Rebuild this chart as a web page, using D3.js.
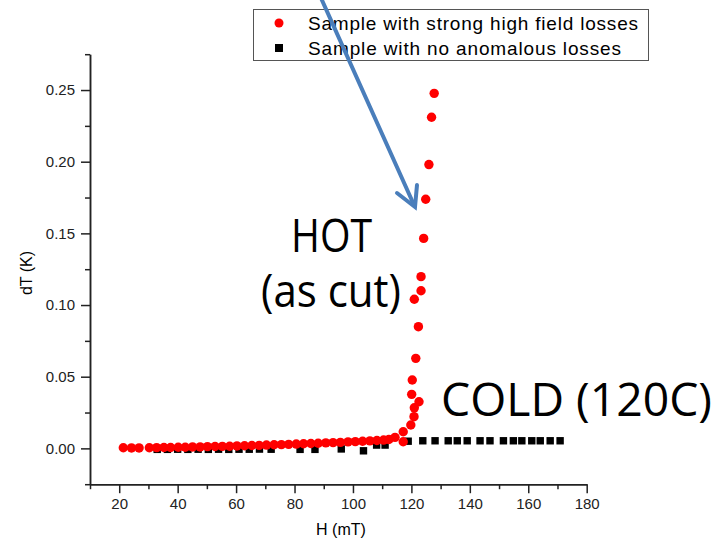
<!DOCTYPE html>
<html>
<head>
<meta charset="utf-8">
<script src="https://cdn.jsdelivr.net/npm/d3@7"></script>
<style>
  body { margin: 0; background: #fff; }
  svg { display: block; }
  .axis text { font-family: "Liberation Sans", Arial, sans-serif; font-size: 15px; fill: #222; }
  .axis path, .axis line { stroke: #222; stroke-width: 1.5px; }
</style>
</head>
<body>
<svg id="chart" width="716" height="549"></svg>
<script>
//
// Data
//
// sample with strong high field losses: [H (mT), dT (K)]
const hotSample = [
  [21.4, 0.0004], [24.2, 0.0003], [26.8, 0.0003], [30.3, 0.0004], [32.8, 0.0005],
  [35.3, 0.0006], [37.6, 0.0006], [40.2, 0.0008], [42.6, 0.0008], [45.1, 0.0010],
  [47.7, 0.0010], [50.2, 0.0012], [52.8, 0.0013], [55.3, 0.0014], [57.8, 0.0015],
  [60.3, 0.0017], [62.9, 0.0018], [65.4, 0.0020], [67.9, 0.0021], [70.4, 0.0023],
  [73.0, 0.0025], [75.5, 0.0026], [78.0, 0.0028], [80.6, 0.0030], [83.1, 0.0032],
  [85.6, 0.0034], [88.1, 0.0036], [90.7, 0.0038], [93.2, 0.0040], [95.7, 0.0042],
  [98.3, 0.0045], [100.8, 0.0047], [103.3, 0.0050], [105.8, 0.0052], [108.2, 0.0055],
  [110.5, 0.0058], [112.3, 0.0062], [114.4, 0.0077], [117.2, 0.0046], [117.2, 0.0116],
  [119.8, 0.0163], [120.9, 0.0221], [121.0, 0.0283], [122.6, 0.0325], [120.1, 0.0377],
  [120.3, 0.0477], [121.5, 0.0628], [122.4, 0.0849], [121.0, 0.104], [123.3, 0.110],
  [123.3, 0.1198], [124.2, 0.1465], [124.9, 0.1738], [126.0, 0.198], [126.9, 0.231],
  [127.8, 0.2477]
];
// sample with no anomalous losses
const coldSample = [
  [33.0, -0.0007], [36.5, -0.0007], [40.0, -0.0006], [43.5, -0.0007], [47.0, -0.0006],
  [50.5, -0.0007], [54.0, -0.0006], [57.5, -0.0007], [61.0, -0.0006], [64.5, -0.0006],
  [68.0, -0.0005], [72.0, -0.0006], [81.9, -0.0007], [87.0, -0.0007], [96.0, -0.0004],
  [103.6, -0.0017], [108.1, 0.0023], [111.0, 0.0023], [118.9, 0.0050], [123.9, 0.0053],
  [128.1, 0.0053], [132.6, 0.0053], [135.7, 0.0053], [139.1, 0.0053], [143.5, 0.0053],
  [146.9, 0.0053], [151.5, 0.0053], [154.9, 0.0053], [157.8, 0.0053], [161.2, 0.0053],
  [164.1, 0.0053], [167.5, 0.0053], [170.9, 0.0053]
];
const xMajor = [20, 40, 60, 80, 100, 120, 140, 160, 180];
const xMinor = [10, 30, 50, 70, 90, 110, 130, 150, 170];
const yMajor = [0, 0.05, 0.10, 0.15, 0.20, 0.25];
const yMinor = [-0.025, 0.025, 0.075, 0.125, 0.175, 0.225, 0.275];
const legendLabels = ["Sample with strong high field losses", "Sample with no anomalous losses"];

//
// Setup
//
const colorHot = '#ff0000';
const colorCold = '#000000';
const colorArrow = '#4a7ebb';

const svg = d3.select('#chart');
const x = d3.scaleLinear().domain([10, 180]).range([90, 586.7]);
const y = d3.scaleLinear().domain([-0.025, 0.275]).range([484.2, 54.2]);
const x0 = x.range()[0], y0 = y.range()[0];

// axes: minor ticks first, then labelled major ticks
svg.append('g').attr('class', 'axis').attr('transform', `translate(0,${y0})`)
    .call(d3.axisBottom(x).tickValues(xMinor).tickSize(5).tickSizeOuter(0).tickFormat(''));
svg.append('g').attr('class', 'axis').attr('transform', `translate(0,${y0})`)
    .call(d3.axisBottom(x).tickValues(xMajor).tickSize(9).tickSizeOuter(0).tickPadding(5).tickFormat(d3.format('d')));
svg.append('g').attr('class', 'axis').attr('transform', `translate(${x0},0)`)
    .call(d3.axisLeft(y).tickValues(yMinor).tickSize(5).tickSizeOuter(0).tickFormat(''));
svg.append('g').attr('class', 'axis').attr('transform', `translate(${x0},0)`)
    .call(d3.axisLeft(y).tickValues(yMajor).tickSize(9).tickSizeOuter(0).tickPadding(6).tickFormat(d3.format('.2f')));

// axis titles
svg.append('text')
    .attr('x', 341).attr('y', 535)
    .attr('text-anchor', 'middle')
    .style('font', '16px "Liberation Sans", Arial, sans-serif')
    .text('H (mT)');
svg.append('text')
    .attr('transform', 'translate(32,273) rotate(-90)')
    .attr('text-anchor', 'middle')
    .style('font', '16px "Liberation Sans", Arial, sans-serif')
    .text('dT (K)');

// points
svg.append('g').selectAll('rect').data(coldSample).join('rect')
    .attr('x', d => x(d[0]) - 3.7).attr('y', d => y(d[1]) - 3.7)
    .attr('width', 7.4).attr('height', 7.4)
    .attr('fill', colorCold);
svg.append('g').selectAll('circle').data(hotSample).join('circle')
    .attr('cx', d => x(d[0])).attr('cy', d => y(d[1]))
    .attr('r', 4.7)
    .attr('fill', colorHot);

// legend
const legend = svg.append('g');
legend.append('rect')
    .attr('x', 253.5).attr('y', 9.5).attr('width', 395).attr('height', 51)
    .attr('fill', '#fff').attr('stroke', '#555').attr('stroke-width', 1);
legend.append('circle').attr('cx', 279).attr('cy', 23).attr('r', 4.5).attr('fill', colorHot);
legend.append('rect').attr('x', 275).attr('y', 44).attr('width', 8).attr('height', 8).attr('fill', colorCold);
const legendWidths = [330, 313];
legend.selectAll('text').data(legendLabels).join('text')
    .attr('x', 308).attr('y', (d, i) => 30 + i * 25)
    .attr('textLength', (d, i) => legendWidths[i])
    .attr('lengthAdjust', 'spacing')
    .style('font', '19px "Liberation Sans", Arial, sans-serif')
    .text(d => d);

// arrow pointing at the hot curve
const arrow = svg.append('g')
    .attr('stroke', colorArrow).attr('stroke-width', 4)
    .attr('stroke-linecap', 'round').attr('fill', 'none');
arrow.append('line').attr('x1', 321).attr('y1', -2).attr('x2', 414).attr('y2', 205);
arrow.append('polyline').attr('points', '397,193 415,207 417,185');

// annotations
const noteFont = '46px "Open Sans", "Noto Sans", sans-serif';
const notes = svg.append('g').style('font', noteFont);
notes.append('text').attr('x', 291).attr('y', 252)
    .attr('textLength', 81).attr('lengthAdjust', 'spacingAndGlyphs').text('HOT');
notes.append('text').attr('x', 261).attr('y', 307)
    .attr('textLength', 140).attr('lengthAdjust', 'spacingAndGlyphs').text('(as cut)');
notes.append('text').attr('x', 441).attr('y', 416)
    .attr('textLength', 271).attr('lengthAdjust', 'spacingAndGlyphs').text('COLD (120C)');
</script>
</body>
</html>
